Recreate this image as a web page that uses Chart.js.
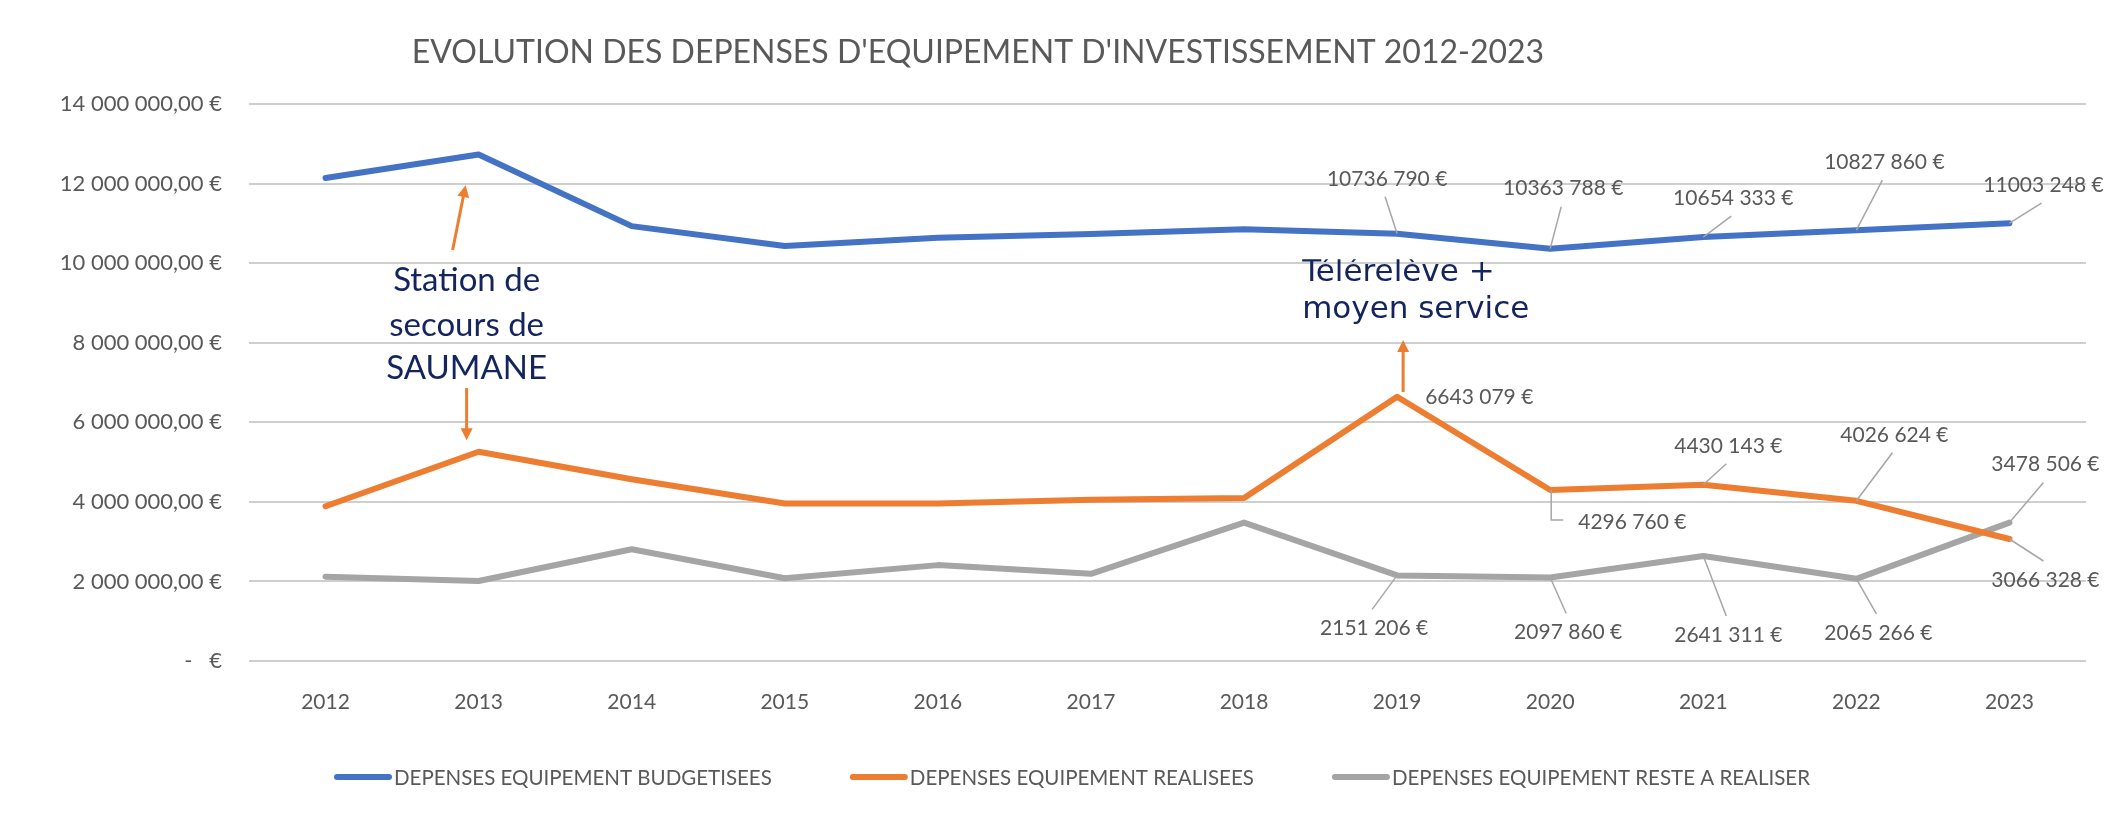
<!DOCTYPE html>
<html lang="fr">
<head>
<meta charset="utf-8">
<title>Evolution des dépenses d'équipement d'investissement 2012-2023</title>
<script src="https://cdn.jsdelivr.net/npm/chart.js@4.4.1/dist/chart.umd.min.js"></script>
<style>
  html, body { margin: 0; padding: 0; background: #ffffff; }
  #wrap { position: relative; width: 2118px; height: 824px; }
</style>
</head>
<body>
<div id="wrap"><canvas id="chart" width="2118" height="824"></canvas></div>
<script>
// ---- data ----
const years = ["2012", "2013", "2014", "2015", "2016", "2017", "2018", "2019", "2020", "2021", "2022", "2023"];
const budgetisees = [12140000, 12730000, 10930000, 10430000, 10640000, 10730000, 10850000, 10736790, 10363788, 10654333, 10827860, 11003248];
const realisees = [3890000, 5260000, 4570000, 3960000, 3960000, 4050000, 4100000, 6643079, 4296760, 4430143, 4026624, 3066328];
const resteARealiser = [2120000, 2010000, 2810000, 2080000, 2410000, 2190000, 3480000, 2151206, 2097860, 2641311, 2065266, 3478506];
const seriesNames = ["DEPENSES EQUIPEMENT BUDGETISEES", "DEPENSES EQUIPEMENT REALISEES", "DEPENSES EQUIPEMENT RESTE A REALISER"];
const seriesColors = ["#4472C4", "#ED7D31", "#A5A5A5"];
const titleText = "EVOLUTION DES DEPENSES D'EQUIPEMENT D'INVESTISSEMENT 2012-2023";

// value labels are shown for 2019-2023 only; offsets in px from the point
const labelFrom = 7;
const labelPlacement = [
    [[-10, -55], [13, -60], [30, -39], [28, -68], [34, -38]],
    [[28, 1, "left"], [28, 32, "elbow"], [25, -39], [38, -66], [36, 41]],
    [[-23, 53], [18, 55], [25, 79], [22, 54], [36, -58]]
];

const textGrey = "#595959";
const noteBlue = "#14245E";
const font = "Lato, 'Open Sans', sans-serif";

function euro(v) {
    // y axis: "14 000 000,00 €"
    if (v === 0) return "-   €";
    const s = String(Math.round(v));
    return s.replace(/\B(?=(\d{3})+(?!\d))/g, " ") + ",00 €";
}

function euroLabel(v) {
    // data labels look like "10736 790 €"
    const r = Math.round(v);
    const head = Math.floor(r / 1000);
    const tail = String(r % 1000).padStart(3, "0");
    return head + " " + tail + " €";
}

function arrow(ctx, x1, y1, x2, y2) {
    const a = Math.atan2(y2 - y1, x2 - x1);
    const head = 12;
    ctx.beginPath();
    ctx.moveTo(x1, y1);
    ctx.lineTo(x2 - Math.cos(a) * head * 0.8, y2 - Math.sin(a) * head * 0.8);
    ctx.stroke();
    ctx.beginPath();
    ctx.moveTo(x2, y2);
    ctx.lineTo(x2 - head * Math.cos(a) + 6 * Math.sin(a), y2 - head * Math.sin(a) - 6 * Math.cos(a));
    ctx.lineTo(x2 - head * Math.cos(a) - 6 * Math.sin(a), y2 - head * Math.sin(a) + 6 * Math.cos(a));
    ctx.closePath();
    ctx.fill();
}

const overlay = {
    id: "overlay",
    afterDatasetsDraw(chart) {
        const { ctx, scales: { x, y } } = chart;
        const at = (i, v) => [x.getPixelForValue(i), y.getPixelForValue(v)];

        // value labels with leader lines
        ctx.save();
        ctx.font = "21px " + font;
        ctx.fillStyle = textGrey;
        ctx.strokeStyle = "#A6A6A6";
        ctx.lineWidth = 1.5;
        ctx.textBaseline = "middle";
        chart.data.datasets.forEach((ds, s) => {
            labelPlacement[s].forEach((p, k) => {
                const i = labelFrom + k;
                const [px, py] = at(i, ds.data[i]);
                const [dx, dy, kind] = p;
                const lx = px + dx, ly = py + dy;
                if (kind === "left") {
                    ctx.textAlign = "left";
                } else if (kind === "elbow") {
                    ctx.beginPath();
                    ctx.moveTo(px + 1, py);
                    ctx.lineTo(px + 1, ly - 2);
                    ctx.lineTo(px + 13, ly - 2);
                    ctx.stroke();
                    ctx.textAlign = "left";
                } else {
                    const ey = dy < 0 ? ly + 18 : ly - 19;
                    ctx.beginPath();
                    ctx.moveTo(lx - 2, ey);
                    ctx.lineTo(px, py);
                    ctx.stroke();
                    ctx.textAlign = "center";
                }
                ctx.fillText(euroLabel(ds.data[i]), lx, ly);
            });
        });
        ctx.restore();

        // notes and orange arrows
        ctx.save();
        ctx.strokeStyle = "#ED7D31";
        ctx.fillStyle = "#ED7D31";
        ctx.lineWidth = 3;
        const x13 = x.getPixelForValue(1);
        arrow(ctx, x13 - 26, y.getPixelForValue(10330000), x13 - 13, y.getPixelForValue(11960000));
        arrow(ctx, x13 - 12, y.getPixelForValue(6860000), x13 - 12, y.getPixelForValue(5550000));
        const x19 = x.getPixelForValue(7);
        arrow(ctx, x19 + 6, y.getPixelForValue(6760000), x19 + 6, y.getPixelForValue(8070000));

        ctx.fillStyle = noteBlue;
        ctx.textBaseline = "middle";
        ctx.textAlign = "center";
        ctx.font = "33px " + font;
        ["Station de", "secours de", "SAUMANE"].forEach((t, k) => {
            ctx.fillText(t, x13 - 12, y.getPixelForValue([9570000, 8440000, 7360000][k]));
        });

        // the text box of this note cuts the top of its first line
        ctx.beginPath();
        ctx.rect(x19 - 120, y.getPixelForValue(10100000), 400, 120);
        ctx.clip();
        ctx.textAlign = "left";
        ctx.font = "31px 'DejaVu Sans', sans-serif";
        ["Télérelève +", "moyen service"].forEach((t, k) => {
            ctx.fillText(t, x19 - 95, y.getPixelForValue([9750000, 8820000][k]));
        });
        ctx.restore();
    },
    afterDraw(chart) {
        const { ctx } = chart;
        ctx.save();
        // title
        ctx.fillStyle = textGrey;
        ctx.textAlign = "center";
        ctx.textBaseline = "middle";
        ctx.font = "32px " + font;
        ctx.fillText(titleText, 978, 53);

        // legend
        ctx.font = "20.5px " + font;
        ctx.textAlign = "left";
        const sw = 58, gap = 78;
        const widths = seriesNames.map(n => sw + 2 + ctx.measureText(n).width);
        const total = widths.reduce((a, b) => a + b, 0) + gap * (seriesNames.length - 1);
        let lx = 1072 - total / 2;
        const ly = 777;
        seriesNames.forEach((n, k) => {
            ctx.strokeStyle = seriesColors[k];
            ctx.lineWidth = 6;
            ctx.lineCap = "round";
            ctx.beginPath();
            ctx.moveTo(lx + 3, ly);
            ctx.lineTo(lx + sw - 3, ly);
            ctx.stroke();
            ctx.fillStyle = textGrey;
            ctx.fillText(n, lx + sw + 2, ly + 1);
            lx += widths[k] + gap;
        });
        ctx.restore();
    }
};

new Chart(document.getElementById("chart"), {
    type: "line",
    data: {
        labels: years,
        datasets: [
            { label: seriesNames[0], data: budgetisees, borderColor: seriesColors[0] },
            { label: seriesNames[1], data: realisees, borderColor: seriesColors[1] },
            { label: seriesNames[2], data: resteARealiser, borderColor: seriesColors[2] }
        ]
    },
    options: {
        responsive: false,
        animation: false,
        layout: { padding: { top: 104, right: 32, bottom: 0, left: 0 } },
        elements: {
            line: { borderWidth: 6, tension: 0, borderCapStyle: "round", borderJoinStyle: "round", fill: false },
            point: { radius: 0, hoverRadius: 0 }
        },
        plugins: {
            legend: { display: false },
            title: { display: false },
            tooltip: { enabled: false }
        },
        scales: {
            x: {
                offset: true,
                grid: { display: false },
                border: { display: false },
                ticks: { color: textGrey, font: { family: font, size: 21 }, padding: 21 },
                afterFit(scale) { scale.height = 163; }
            },
            y: {
                min: 0,
                max: 14000000,
                grid: { color: "#CFCFCF", lineWidth: 2, drawTicks: false },
                border: { display: false },
                ticks: {
                    stepSize: 2000000,
                    color: textGrey,
                    font: { family: font, size: 22 },
                    padding: 27,
                    callback: (v) => euro(v)
                },
                afterFit(scale) { scale.width = 249; }
            }
        }
    },
    plugins: [overlay]
});
</script>
</body>
</html>
